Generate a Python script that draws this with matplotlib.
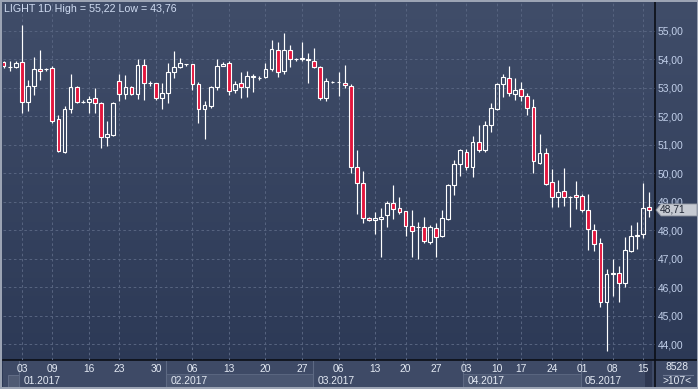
import numpy as np
import matplotlib
matplotlib.use('Agg')
import matplotlib.pyplot as plt
from matplotlib.patches import Rectangle, Polygon
from matplotlib.lines import Line2D
from matplotlib.colors import LinearSegmentedColormap
import matplotlib.transforms as mtransforms

plt.rcParams['font.family'] = ['Liberation Sans', 'DejaVu Sans']

# daily bars
opens = [53.90, 53.73, 53.74, 53.92, 52.49, 53.08, 53.67, 53.65, 53.69, 51.90,
         50.76, 52.25, 53.02, 52.50, 52.49, 52.65, 52.48, 51.26, 51.35, 53.24,
         52.78, 53.02, 52.78, 53.79, 53.16, 53.16, 52.65, 52.82, 53.55, 53.74,
         53.82, 53.82, 53.12, 52.24, 52.37, 53.02, 53.78, 53.88, 52.92, 53.18,
         53.04, 53.38, 53.35, 53.39, 53.67, 54.33, 53.59, 54.33, 54.00, 54.02,
         54.02, 53.96, 53.74, 52.64, 53.21, 53.21, 53.18, 53.08, 50.23, 49.65,
         48.43, 48.37, 48.41, 48.54, 48.94, 48.77, 48.67, 48.16, 48.12, 48.10,
         47.60, 48.06, 47.79, 48.41, 49.58, 50.33, 50.75, 50.22, 51.08, 50.80,
         51.70, 52.25, 53.13, 53.36, 52.80, 52.97, 52.71, 52.33, 50.35, 50.70,
         49.68, 49.17, 49.38, 49.17, 49.22, 49.19, 48.71, 48.00, 47.54, 45.49,
         46.47, 46.49, 46.16, 47.28, 47.80, 47.85, 48.80]
highs = [53.95, 53.94, 53.94, 55.22, 53.29, 54.09, 54.32, 53.70, 53.78, 52.05,
         52.35, 53.49, 53.05, 52.58, 52.70, 53.00, 52.50, 51.85, 52.52, 53.49,
         53.45, 53.05, 54.00, 54.00, 53.24, 53.17, 53.18, 53.88, 54.29, 54.06,
         53.85, 53.85, 53.20, 52.55, 53.05, 54.00, 53.92, 53.94, 53.24, 53.55,
         53.59, 53.50, 53.43, 53.86, 54.68, 54.61, 54.92, 54.49, 54.05, 54.61,
         54.21, 54.41, 53.76, 53.35, 53.24, 53.55, 53.79, 53.12, 50.82, 50.08,
         48.45, 48.65, 48.78, 49.03, 49.60, 49.15, 48.69, 48.71, 48.28, 48.45,
         48.17, 48.24, 48.71, 49.62, 50.45, 50.84, 50.84, 51.30, 51.70, 51.85,
         52.45, 53.17, 53.47, 53.77, 53.36, 53.20, 52.83, 52.60, 51.39, 50.88,
         50.15, 49.76, 50.18, 49.20, 49.72, 49.27, 49.27, 48.20, 47.71, 46.63,
         46.98, 46.75, 47.77, 48.18, 48.27, 49.65, 49.35]
lows = [53.70, 53.60, 53.70, 52.12, 52.18, 52.76, 53.29, 53.60, 51.78, 50.74,
        50.70, 52.11, 52.45, 52.46, 52.12, 52.12, 50.88, 50.96, 51.30, 52.55,
        52.60, 52.75, 52.60, 52.58, 53.06, 52.58, 52.24, 52.47, 53.35, 53.70,
        53.78, 52.92, 51.78, 51.19, 52.30, 52.92, 53.77, 52.76, 52.82, 52.65,
        52.67, 52.85, 53.29, 53.35, 53.59, 53.38, 53.47, 53.73, 53.95, 53.94,
        53.18, 53.70, 52.56, 52.54, 53.18, 52.73, 53.00, 50.02, 48.57, 48.26,
        48.32, 47.86, 47.07, 48.11, 48.40, 48.57, 47.81, 47.07, 47.00, 47.56,
        47.52, 47.05, 47.76, 48.36, 49.25, 49.91, 50.11, 49.87, 50.74, 50.74,
        51.46, 52.22, 52.69, 52.71, 52.59, 52.53, 52.06, 50.02, 50.33, 49.59,
        48.82, 48.82, 48.85, 48.12, 48.74, 48.65, 47.30, 47.27, 45.31, 43.76,
        45.70, 45.49, 45.99, 47.24, 47.35, 47.71, 48.47]
closes = [53.75, 53.74, 53.86, 52.49, 53.08, 53.67, 53.60, 53.66, 51.84, 50.79,
          52.25, 53.02, 52.52, 52.51, 52.60, 52.47, 51.26, 51.38, 52.48, 52.78,
          53.02, 52.78, 53.80, 53.16, 53.17, 52.65, 52.82, 53.55, 53.74, 53.86,
          53.83, 53.12, 52.24, 52.41, 53.02, 53.77, 53.82, 52.88, 53.14, 53.04,
          53.41, 53.40, 53.36, 53.67, 54.38, 53.56, 54.33, 54.02, 54.01, 54.04,
          53.99, 53.74, 52.64, 53.24, 53.22, 53.22, 53.11, 50.23, 49.65, 48.44,
          48.37, 48.43, 48.47, 48.94, 48.74, 48.63, 48.16, 47.98, 48.11, 47.63,
          48.10, 47.76, 48.43, 49.60, 50.33, 50.80, 50.22, 51.08, 50.80, 51.70,
          52.28, 53.13, 53.39, 52.83, 52.92, 52.71, 52.29, 50.44, 50.70, 49.62,
          49.15, 49.34, 49.15, 49.16, 49.15, 48.71, 48.04, 47.51, 45.49, 46.47,
          46.49, 46.14, 47.31, 47.79, 47.83, 48.77, 48.71]

day_ticks = [3, 8, 14, 19, 25, 31, 37, 43, 49, 55, 61, 66, 71, 76, 81, 85, 90, 95, 100, 105]
day_labels = ['03', '09', '16', '23', '30', '06', '13', '20', '27', '06',
              '13', '20', '27', '03', '10', '17', '24', '01', '08', '15']
month_labels = ['01.2017', '02.2017', '03.2017', '04.2017', '05.2017']
month_starts = [2.6, 26.7, 50.8, 75.5, 94.8]
price_ticks = list(range(44, 56))

W, H = 698, 389
RED = '#e3163d'
TXT = '#e4eaf4'
FS = 7.4

def fmt(v):
    return f'{v:.2f}'.replace('.', ',')

fig = plt.figure(figsize=(W / 100, H / 100), dpi=100)

# gradient background
bg = fig.add_axes([0, 0, 1, 1])
bg.axis('off')
bg.set_zorder(0)
cmap = LinearSegmentedColormap.from_list('bg', ['#404d69', '#2b3855'])
bg.imshow(np.linspace(0, 1, 256)[:, None], aspect='auto', cmap=cmap,
          extent=[0, 1, 0, 1], origin='upper')


def frect(x0, y0, x1, y1, fc, ec='none', lw=0, z=1):
    fig.add_artist(Rectangle((x0 / W, 1 - y1 / H), (x1 - x0) / W, (y1 - y0) / H,
                             transform=fig.transFigure, facecolor=fc,
                             edgecolor=ec, linewidth=lw, zorder=z))


def fline(x0, y0, x1, y1, c, lw, z=1.5):
    fig.add_artist(Line2D([x0 / W, x1 / W], [1 - y0 / H, 1 - y1 / H],
                          transform=fig.transFigure, color=c, linewidth=lw, zorder=z))


ax = fig.add_axes([3 / W, 29 / H, 652 / W, 357 / H])
ax.set_zorder(2)
ax.patch.set_alpha(0)
ax.set_xlim(-0.1, 106.96)
ax.set_ylim(43.44, 55.98)
for s in ax.spines.values():
    s.set_visible(False)

x = np.arange(len(opens))
o = np.array(opens)
c = np.array(closes)
hi = np.array(highs)
lo = np.array(lows)
top = np.maximum(o, c)
bot = np.minimum(o, c)

ax.vlines(x, top, hi, color='white', linewidth=0.85, zorder=3)
ax.vlines(x, lo, bot, color='white', linewidth=0.85, zorder=3)
faces = [RED if cc < oo else 'none' for oo, cc in zip(opens, closes)]
ax.bar(x, top - bot, bottom=bot, width=0.62, color=faces,
       edgecolor='white', linewidth=0.8, zorder=4)

ax.set_xticks(day_ticks)
ax.set_xticklabels(day_labels)
ax.set_yticks(price_ticks)
ax.set_yticklabels([fmt(v) for v in price_ticks])
ax.yaxis.tick_right()
ax.tick_params(axis='x', length=0, pad=3.0, labelsize=FS, labelcolor=TXT)
ax.tick_params(axis='y', length=0, pad=2.0, labelsize=FS, labelcolor='#c2d0ea')
ax.set_axisbelow(True)
ax.grid(True, color='#56637f', linestyle=(0, (2.5, 2.5)), linewidth=0.75)

# bottom panel
frect(3, 360, 698, 387, '#3e4a66')
xt = ax.get_xaxis_transform()
bounds = month_starts + [106.6]
for i, lab in enumerate(month_labels):
    x0 = ax.transData.transform((bounds[i], 0))[0]
    x1 = ax.transData.transform((bounds[i + 1], 0))[0]
    if i % 2 == 1:
        frect(x0, 374, x1, 387, '#4a5671', ec='#5e6a84', lw=0.6)
    fline(x0, 361, x0, 387, '#5d6983', 0.8)
    ax.annotate(lab, xy=(bounds[i], -0.059), xycoords=xt, xytext=(3, 0),
                textcoords='offset points', ha='left', va='center',
                fontsize=FS, color=TXT, annotation_clip=False)
frect(8, 374.5, ax.transData.transform((month_starts[0], 0))[0], 387,
      '#4f5a73', ec='#66718a', lw=0.6)
frect(645, 361, 652, 387, '#2e3852', z=1.2)

# right-bottom corner
frect(655, 360, 698, 387, '#3e4a66', z=1.2)
fline(663, 375, 693, 375, '#6d7892', 0.8, z=1.3)
fig.text(677 / W, 1 - 367.5 / H, '8528', ha='center', va='center',
         fontsize=FS, color=TXT, zorder=5)
fig.text(677 / W, 1 - 381 / H, '>107<', ha='center', va='center',
         fontsize=FS, color=TXT, zorder=5)

# separators and frame
fline(655, 2, 655, 387, '#0b0e16', 1.2, z=1.6)
fline(3, 360, 698, 360, '#0b0e16', 1.2, z=1.6)
frect(0, 0, 698, 2.4, '#9ca4b4', z=1.7)
frect(0, 386.6, 698, 389, '#9ca4b4', z=1.7)
frect(0, 0, 2.4, 389, '#9ca4b4', z=1.7)
frect(696.6, 0, 698, 389, '#9ca4b4', z=1.7)

# title
title = f'LIGHT 1D High = {fmt(max(highs))} Low = {fmt(min(lows))}'
fig.text(4 / W, 1 - 9 / H, title, ha='left', va='center', fontsize=7.7,
         color='#d0dcf2', zorder=5)

# last price marker
yd = ax.transData.transform((0, closes[-1]))[1]
ident = mtransforms.IdentityTransform()
fig.add_artist(Polygon([(656, yd), (661, yd + 6), (697, yd + 6),
                        (697, yd - 6), (661, yd - 6)], closed=True,
                       transform=ident, facecolor='#c6cad2', edgecolor='#8c929e',
                       linewidth=0.6, zorder=4))
fig.text(660, yd, fmt(closes[-1]), transform=ident, ha='left', va='center',
         fontsize=FS, color='#1f2634', zorder=5)

fig.savefig('out.png', dpi=100)
